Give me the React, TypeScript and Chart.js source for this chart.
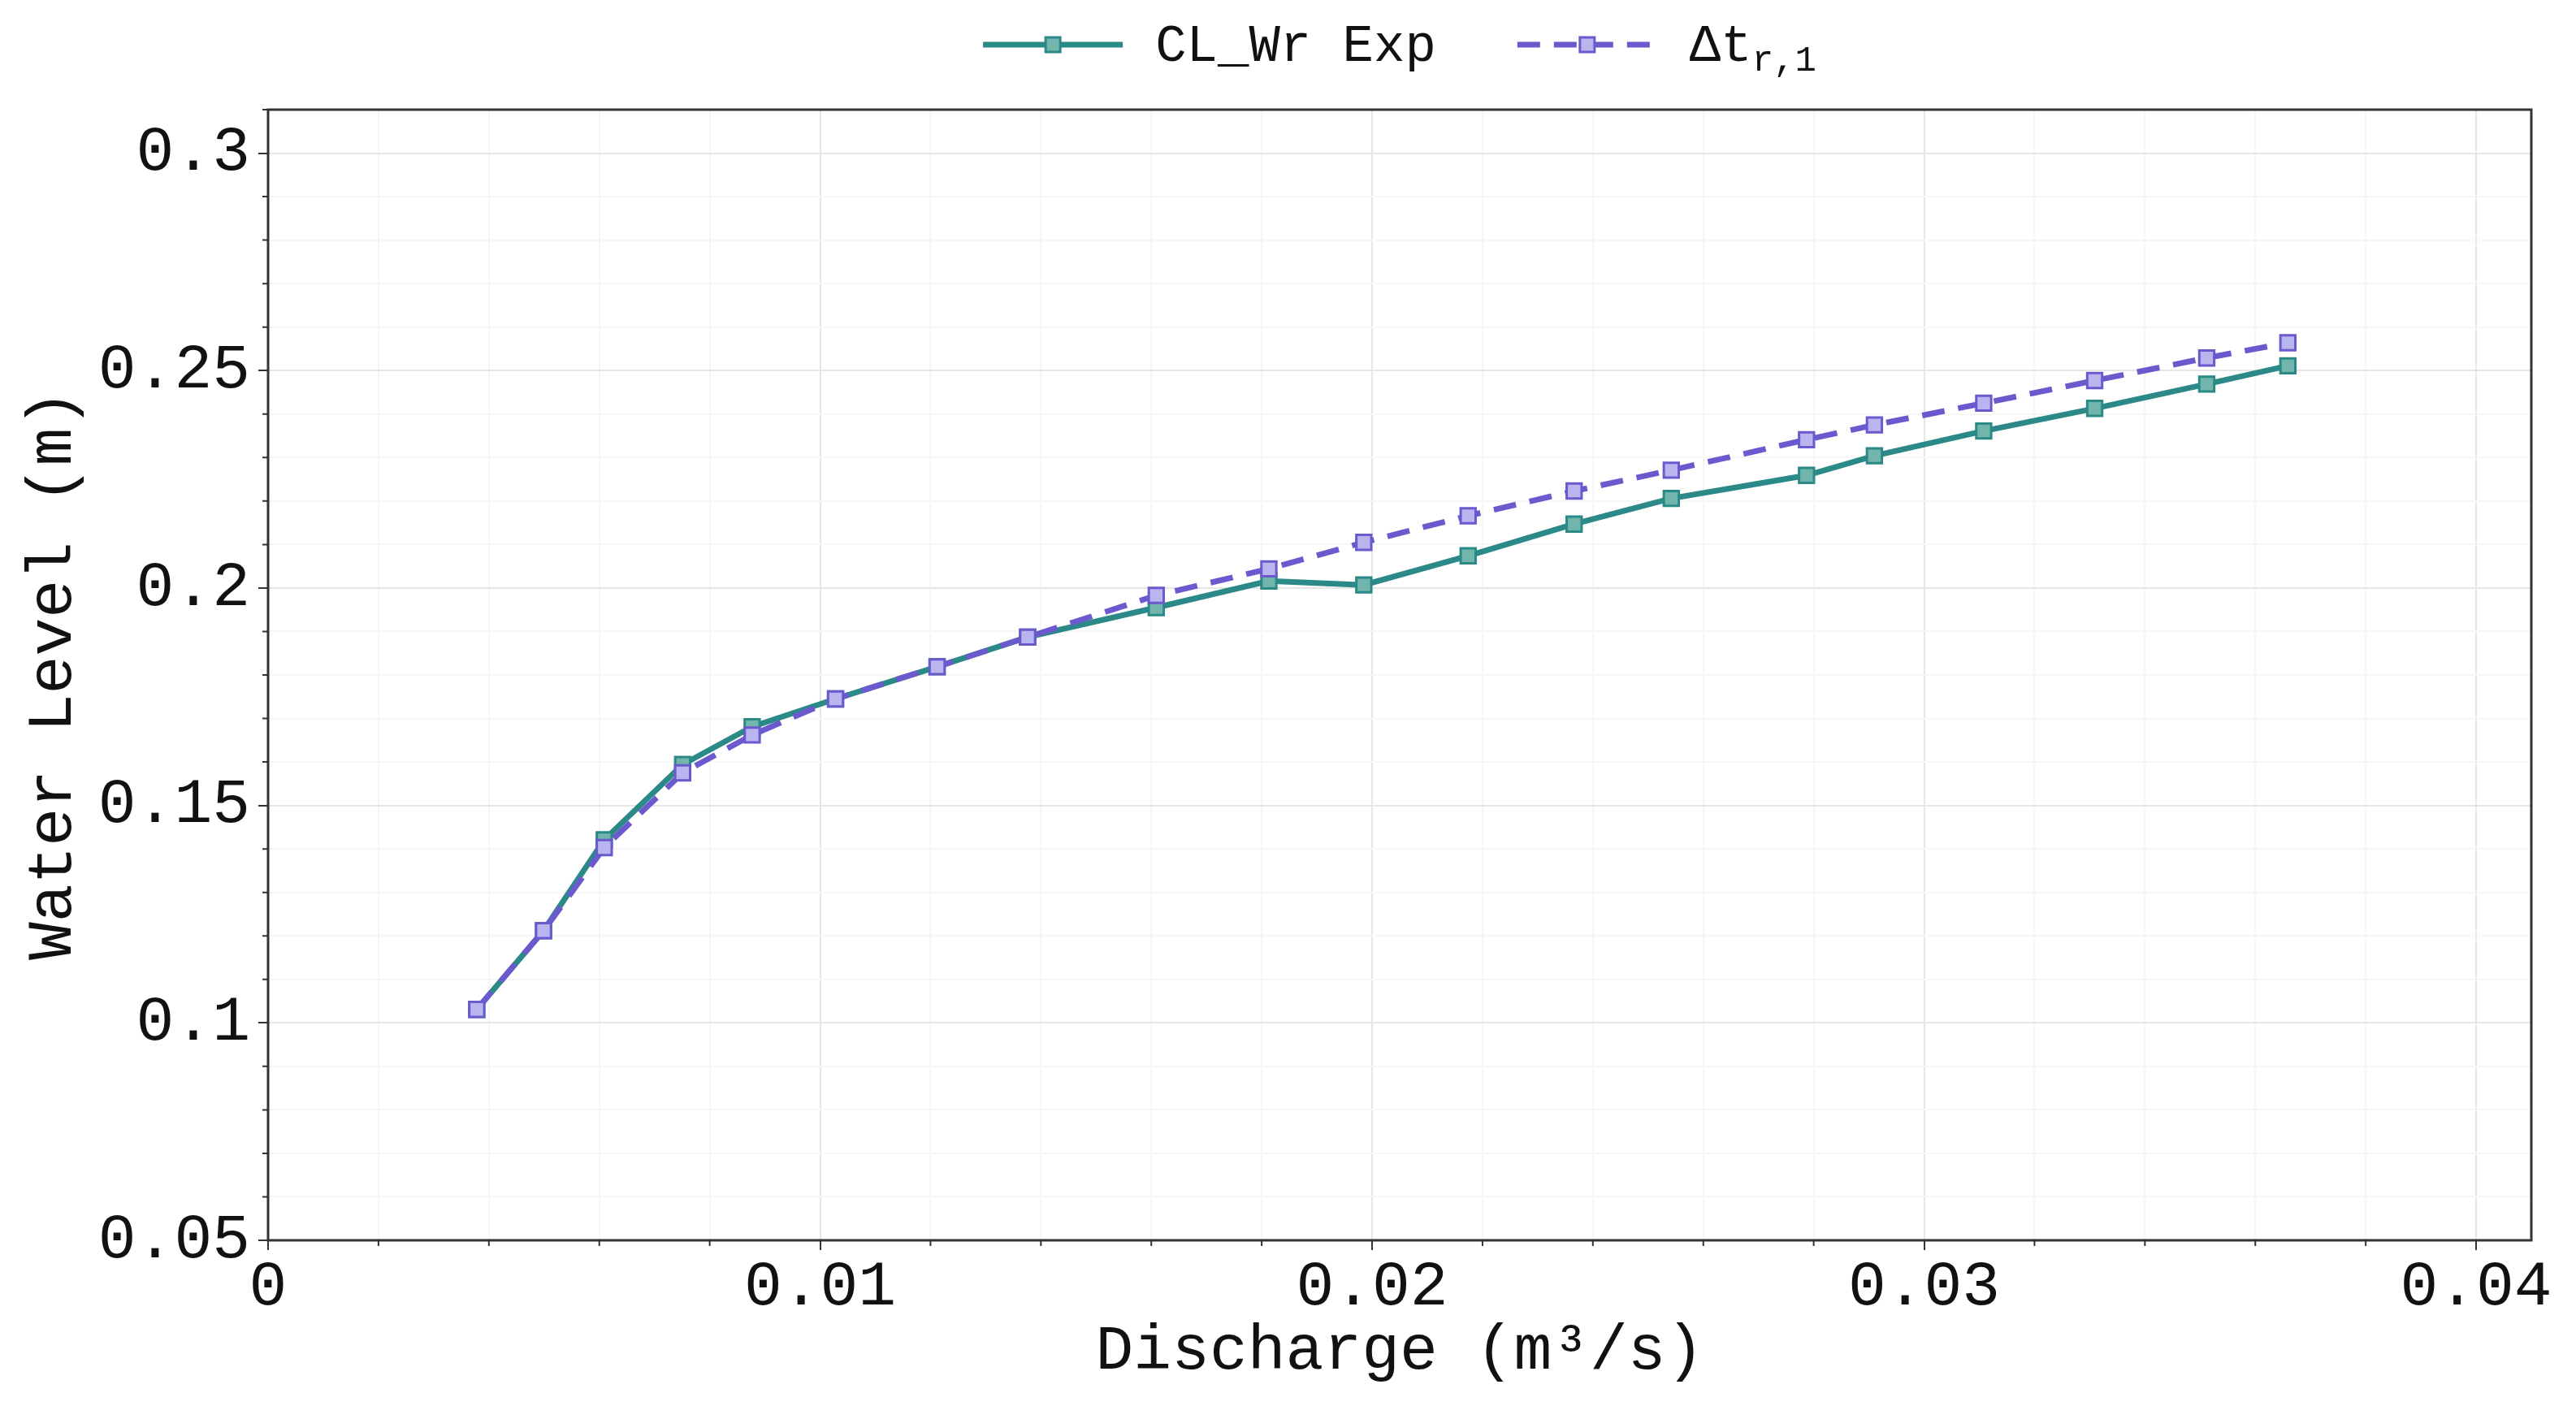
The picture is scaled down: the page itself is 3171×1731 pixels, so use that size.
import React, { useEffect, useRef } from 'react';
import { Chart, registerables } from 'chart.js';

Chart.register(...registerables);

// discharge (m3/s) and water level (m)
const discharge = [0.00378, 0.00499, 0.00609, 0.00751, 0.00877, 0.01028, 0.01212, 0.01376, 0.01609, 0.01813, 0.01985, 0.02174, 0.02366, 0.02542, 0.02787, 0.0291, 0.03108, 0.03309, 0.03512, 0.03659];
const clWrExp = [0.1031, 0.1212, 0.1421, 0.1594, 0.1681, 0.1745, 0.1819, 0.1887, 0.1955, 0.2016, 0.2007, 0.2074, 0.2147, 0.2206, 0.2259, 0.2304, 0.2361, 0.2413, 0.2469, 0.2511];
const dtR1 = [0.1031, 0.1212, 0.1403, 0.1575, 0.1662, 0.1745, 0.1819, 0.1887, 0.1983, 0.2044, 0.2105, 0.2166, 0.2223, 0.2271, 0.2341, 0.2375, 0.2425, 0.2477, 0.2529, 0.2564];

const xTicks = [0, 0.01, 0.02, 0.03, 0.04];
const yTicks = [0.05, 0.1, 0.15, 0.2, 0.25, 0.3];

const MONO = '"Liberation Mono", "DejaVu Sans Mono", monospace';
const TEAL = '#2b8a87';
const TEAL_FILL = '#72b5ad';
const PURPLE = '#6a5acd';
const PURPLE_FILL = '#b9b5ee';
const DASH = [28, 17];

const isMajor = (v: number, list: number[]) => list.some((t) => Math.abs(t - v) < 1e-7);

const decorations = {
  id: 'decorations',
  afterDraw(chart: any) {
    const { ctx, chartArea: a } = chart;
    const xs = chart.scales.x;
    const ys = chart.scales.y;
    ctx.save();

    // minor tick marks
    ctx.strokeStyle = '#333';
    ctx.lineWidth = 2;
    ctx.beginPath();
    xs.ticks.forEach((t: any) => {
      if (isMajor(t.value, xTicks)) return;
      const px = xs.getPixelForValue(t.value);
      ctx.moveTo(px, a.bottom);
      ctx.lineTo(px, a.bottom + 7);
    });
    ys.ticks.forEach((t: any) => {
      if (isMajor(t.value, yTicks)) return;
      const py = ys.getPixelForValue(t.value);
      ctx.moveTo(a.left, py);
      ctx.lineTo(a.left - 7, py);
    });
    ctx.stroke();

    // frame
    ctx.lineWidth = 3;
    ctx.strokeStyle = '#333';
    ctx.strokeRect(a.left, a.top, a.right - a.left, a.bottom - a.top);

    // legend
    const lineLen = 172;
    const gap = 40;
    const itemGap = 100;
    const y = 55;
    ctx.textBaseline = 'alphabetic';
    ctx.font = `64px ${MONO}`;
    const w1 = ctx.measureText('CL_Wr Exp').width;
    const wMain = ctx.measureText('Δt').width;
    ctx.font = `44px ${MONO}`;
    const wSub = ctx.measureText('r,1').width;
    const total = lineLen + gap + w1 + itemGap + lineLen + gap + wMain + wSub;
    let x = (a.left + a.right) / 2 - total / 2;

    const drawSample = (x0: number, color: string, fill: string, dash: number[]) => {
      ctx.strokeStyle = color;
      ctx.lineWidth = 7;
      ctx.setLineDash(dash);
      ctx.beginPath();
      ctx.moveTo(x0, y);
      ctx.lineTo(x0 + lineLen, y);
      ctx.stroke();
      ctx.setLineDash([]);
      const s = 18;
      ctx.fillStyle = fill;
      ctx.fillRect(x0 + lineLen / 2 - s / 2, y - s / 2, s, s);
      ctx.lineWidth = 3;
      ctx.strokeRect(x0 + lineLen / 2 - s / 2, y - s / 2, s, s);
    };

    drawSample(x, TEAL, TEAL_FILL, []);
    x += lineLen + gap;
    ctx.fillStyle = '#111';
    ctx.font = `64px ${MONO}`;
    ctx.fillText('CL_Wr Exp', x, y + 20);
    x += w1 + itemGap;

    drawSample(x, PURPLE, PURPLE_FILL, DASH);
    x += lineLen + gap;
    ctx.fillStyle = '#111';
    ctx.font = `64px ${MONO}`;
    ctx.fillText('Δt', x, y + 20);
    x += wMain;
    ctx.font = `44px ${MONO}`;
    ctx.fillText('r,1', x, y + 32);

    ctx.restore();
  },
};

export default function App() {
  const canvasRef = useRef<HTMLCanvasElement>(null);

  useEffect(() => {
    document.body.style.margin = '0';
    document.body.style.overflow = 'hidden';
    const ctx = canvasRef.current;
    if (!ctx) return;

    const chart = new Chart(ctx, {
      type: 'line',
      data: {
        datasets: [
          {
            label: 'CL_Wr Exp',
            data: discharge.map((q, i) => ({ x: q, y: clWrExp[i] })),
            borderColor: TEAL,
            backgroundColor: TEAL_FILL,
            borderWidth: 7,
            pointStyle: 'rect',
            pointRadius: 13,
            pointBorderWidth: 3,
            pointBorderColor: TEAL,
            pointBackgroundColor: TEAL_FILL,
            tension: 0,
            order: 1,
          },
          {
            label: 'Δt r,1',
            data: discharge.map((q, i) => ({ x: q, y: dtR1[i] })),
            borderColor: PURPLE,
            backgroundColor: PURPLE_FILL,
            borderWidth: 7,
            borderDash: DASH,
            pointStyle: 'rect',
            pointRadius: 13,
            pointBorderWidth: 3,
            pointBorderColor: PURPLE,
            pointBackgroundColor: PURPLE_FILL,
            tension: 0,
            order: 0,
          },
        ],
      },
      options: {
        responsive: false,
        animation: false,
        layout: { padding: { top: 135, right: 55, left: 0, bottom: 0 } },
        plugins: {
          legend: { display: false },
          tooltip: { enabled: false },
        },
        scales: {
          x: {
            type: 'linear',
            min: 0,
            max: 0.041,
            afterFit: (s: any) => {
              s.height = 204;
            },
            border: { display: false },
            grid: {
              color: (c: any) => (isMajor(c.tick.value, xTicks) ? '#e6e6e6' : '#f6f6f6'),
              lineWidth: 2,
              tickLength: 12,
              tickWidth: 2,
              tickColor: (c: any) => (isMajor(c.tick.value, xTicks) ? '#333' : 'rgba(0,0,0,0)'),
            },
            ticks: {
              stepSize: 0.002,
              includeBounds: false,
              autoSkip: false,
              maxRotation: 0,
              padding: 0,
              color: '#111',
              font: { family: MONO, size: 78 },
              callback: (v: any) => (isMajor(Number(v), xTicks) ? String(parseFloat(Number(v).toFixed(4))) : ''),
            },
            title: {
              display: true,
              text: 'Discharge (m³/s)',
              color: '#111',
              font: { family: MONO, size: 78 },
              padding: { top: 0, bottom: 20 },
            },
          },
          y: {
            type: 'linear',
            min: 0.05,
            max: 0.31,
            afterFit: (s: any) => {
              s.width = 330;
            },
            border: { display: false },
            grid: {
              color: (c: any) => (isMajor(c.tick.value, yTicks) ? '#e6e6e6' : '#f6f6f6'),
              lineWidth: 2,
              tickLength: 12,
              tickWidth: 2,
              tickColor: (c: any) => (isMajor(c.tick.value, yTicks) ? '#333' : 'rgba(0,0,0,0)'),
            },
            ticks: {
              stepSize: 0.01,
              includeBounds: false,
              autoSkip: false,
              padding: 10,
              color: '#111',
              font: { family: MONO, size: 78 },
              callback: (v: any) => (isMajor(Number(v), yTicks) ? String(parseFloat(Number(v).toFixed(4))) : ''),
            },
            title: {
              display: true,
              text: 'Water Level (m)',
              color: '#111',
              font: { family: MONO, size: 78 },
              padding: { top: 20, bottom: 0 },
            },
          },
        },
      },
      plugins: [decorations],
    });

    return () => {
      chart.destroy();
    };
  }, []);

  return (
    <div style={{ width: 3171, height: 1731, background: '#fff' }}>
      <canvas ref={canvasRef} width={3171} height={1731} style={{ display: 'block' }} />
    </div>
  );
}
